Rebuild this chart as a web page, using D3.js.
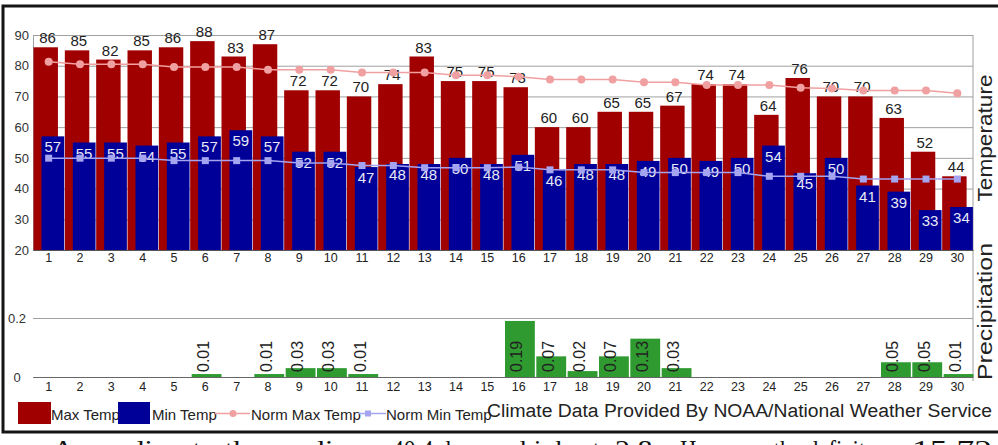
<!DOCTYPE html>
<html>
<head>
<meta charset="utf-8">
<script src="https://cdn.jsdelivr.net/npm/d3@7"></script>
<style>
  body { margin: 0; background: #fff; }
  svg { display: block; }
</style>
</head>
<body>
<svg id="chart" width="998" height="445"></svg>
<script>
// ---------- data ----------
const days = [1,2,3,4,5,6,7,8,9,10,11,12,13,14,15,16,17,18,19,20,21,22,23,24,25,26,27,28,29,30];
const maxTemp = [86,85,82,85,86,88,83,87,72,72,70,74,83,75,75,73,60,60,65,65,67,74,74,64,76,70,70,63,52,44];
const minTemp = [57,55,55,54,55,57,59,57,52,52,47,48,48,50,48,51,46,48,48,49,50,49,50,54,45,50,41,39,33,34];
const normMax = [81.3,80.5,80.5,80.5,79.6,79.6,79.6,78.7,78.7,78.7,77.8,77.8,77.8,76.9,76.9,76.4,75.5,75.5,75.5,74.6,74.6,73.7,73.7,73.7,72.8,72.6,71.9,71.9,71.9,71.0];
const normMin = [49.9,49.9,49.9,49.9,49.1,49.1,49.1,49.1,48.3,48.3,47.5,47.5,46.8,46.8,46.8,47.0,46.1,46.1,46.1,45.2,45.2,45.2,45.2,44.0,44.0,44.0,43.1,43.1,43.1,43.1];
const precip = [0,0,0,0,0,0.01,0,0.01,0.03,0.03,0.01,0,0,0,0,0.19,0.07,0.02,0.07,0.13,0.03,0,0,0,0,0,0,0.05,0.05,0.01];
const tempTicks = [20,30,40,50,60,70,80,90];
const precipTicks = [0, 0.2];
const legendLabels = ["Max Temp", "Min Temp", "Norm Max Temp", "Norm Min Temp"];
const creditText = "Climate Data Provided By NOAA/National Weather Service";
const footerParts = ["According to the readings", "40.4 degree", "highest", "2.8.", "However, the deficit", "15.72"];

// ---------- style ----------
const C = {
  max: "#a00000", min: "#000099", nmax: "#f0a0a0", nmin: "#a4a4f0",
  precip: "#2f9a2f", grid: "#a0a0a0", text: "#222", border: "#151515"
};
const FONT = "'Liberation Sans', Arial, sans-serif";

const svg = d3.select("#chart").style("font-family", FONT);

// ---------- scales ----------
const x = d3.scaleBand().domain(days).range([33, 973]).paddingInner(0).paddingOuter(0);
const bw = x.bandwidth();
const yT = d3.scaleLinear().domain([20, 90]).range([250, 35]);
const yP = d3.scaleLinear().domain([0, 0.2]).range([377, 318]);

// ---------- outer frame ----------
svg.append("path")
  .attr("d", "M998,6 L3,6 L3,432 L998,432")
  .attr("fill", "none").attr("stroke", C.border).attr("stroke-width", 3);

// ---------- temperature panel ----------
const gT = svg.append("g").attr("transform", "translate(33,0)");
const axT = d3.axisLeft(yT).tickValues(tempTicks).tickSize(-940).tickPadding(4);
gT.call(axT);
gT.select(".domain").attr("stroke", C.grid);
gT.selectAll(".tick line").attr("stroke", C.grid);
gT.selectAll(".tick text").attr("fill", "#333").style("font-size", "13px").style("font-family", FONT);

// right border line
svg.append("line").attr("x1", 973).attr("x2", 973).attr("y1", 35).attr("y2", 381)
  .attr("stroke", C.grid);

// max bars
svg.append("g").selectAll("rect").data(days).join("rect")
  .attr("x", d => x(d) + 0.5)
  .attr("width", bw * 0.78)
  .attr("y", (d, i) => yT(maxTemp[i]))
  .attr("height", (d, i) => yT(20) - yT(maxTemp[i]))
  .attr("fill", C.max);

// min bars
svg.append("g").selectAll("rect").data(days).join("rect")
  .attr("x", d => x(d) + 8.5)
  .attr("width", bw * 0.725)
  .attr("y", (d, i) => yT(minTemp[i]))
  .attr("height", (d, i) => yT(20) - yT(minTemp[i]))
  .attr("fill", C.min);

// max labels
svg.append("g").selectAll("text").data(days).join("text")
  .attr("x", d => x(d) + 14.5)
  .attr("y", (d, i) => yT(maxTemp[i]) - 4)
  .attr("text-anchor", "middle")
  .attr("fill", C.text).style("font-size", "15px")
  .text((d, i) => maxTemp[i]);

// min labels
svg.append("g").selectAll("text").data(days).join("text")
  .attr("x", d => x(d) + 19.8)
  .attr("y", (d, i) => yT(minTemp[i]) + 16)
  .attr("text-anchor", "middle")
  .attr("fill", "#e8e8f4").style("font-size", "15px")
  .text((d, i) => minTemp[i]);

// norm lines
const lineMax = d3.line().x(d => x(d) + bw / 2).y((d, i) => yT(normMax[i]));
const lineMin = d3.line().x(d => x(d) + bw / 2).y((d, i) => yT(normMin[i]));
svg.append("path").datum(days).attr("d", lineMax).attr("fill", "none")
  .attr("stroke", C.nmax).attr("stroke-width", 1.5);
svg.append("g").selectAll("circle").data(days).join("circle")
  .attr("cx", d => x(d) + bw / 2).attr("cy", (d, i) => yT(normMax[i]))
  .attr("r", 4).attr("fill", C.nmax);
svg.append("path").datum(days).attr("d", lineMin).attr("fill", "none")
  .attr("stroke", C.nmin).attr("stroke-width", 1.5);
svg.append("g").selectAll("rect").data(days).join("rect")
  .attr("x", d => x(d) + bw / 2 - 3.5).attr("y", (d, i) => yT(normMin[i]) - 3.5)
  .attr("width", 7).attr("height", 7).attr("fill", C.nmin);

// temp x axis
const gTx = svg.append("g").attr("transform", "translate(0,250)")
  .call(d3.axisBottom(x).tickSize(0).tickPadding(3));
gTx.select(".domain").attr("stroke", "#555");
gTx.selectAll(".tick text").attr("fill", C.text).style("font-size", "12.5px").style("font-family", FONT);

// ---------- precipitation panel ----------
const gP = svg.append("g").attr("transform", "translate(33,0)");
gP.call(d3.axisLeft(yP).tickValues(precipTicks).tickSize(-940).tickPadding(4)
  .tickFormat(d => d === 0 ? "0" : d3.format(".1f")(d)));
gP.select(".domain").remove();
gP.selectAll(".tick line").attr("stroke", C.grid);
gP.selectAll(".tick text").attr("fill", "#333").attr("text-anchor", "middle").attr("x", -16)
  .style("font-size", "13px").style("font-family", FONT);

svg.append("g").selectAll("rect").data(days.filter((d, i) => precip[i] > 0)).join("rect")
  .attr("x", d => x(d) + 2)
  .attr("width", bw - 1.5)
  .attr("y", d => yP(precip[days.indexOf(d)]))
  .attr("height", d => yP(0) - yP(precip[days.indexOf(d)]))
  .attr("fill", C.precip);

svg.append("g").selectAll("text").data(days.filter((d, i) => precip[i] > 0)).join("text")
  .attr("transform", d => `translate(${x(d) + bw / 2 + 3.5},372) rotate(-90)`)
  .attr("text-anchor", "start")
  .attr("fill", C.text).style("font-size", "16px")
  .text(d => precip[days.indexOf(d)].toFixed(2));

const gPx = svg.append("g").attr("transform", "translate(0,377)")
  .call(d3.axisBottom(x).tickSize(0).tickPadding(5.5));
gPx.select(".domain").attr("stroke", "#666");
gPx.selectAll(".tick text").attr("fill", C.text).style("font-size", "12.5px").style("font-family", FONT);

// ---------- panel titles ----------
svg.append("text")
  .attr("transform", "translate(992,138) rotate(-90)")
  .attr("text-anchor", "middle").attr("fill", C.text)
  .style("font-size", "20px")
  .attr("textLength", 127).attr("lengthAdjust", "spacingAndGlyphs")
  .text("Temperature");
svg.append("text")
  .attr("transform", "translate(992,311.5) rotate(-90)")
  .attr("text-anchor", "middle").attr("fill", C.text)
  .style("font-size", "20px")
  .attr("textLength", 137).attr("lengthAdjust", "spacingAndGlyphs")
  .text("Precipitation");

// ---------- legend ----------
const lg = svg.append("g");
lg.append("rect").attr("x", 18).attr("y", 402).attr("width", 33).attr("height", 22).attr("fill", C.max);
lg.append("text").attr("x", 51).attr("y", 420).attr("fill", C.text).style("font-size", "15px").text(legendLabels[0]);
lg.append("rect").attr("x", 118).attr("y", 402).attr("width", 32).attr("height", 22).attr("fill", C.min);
lg.append("text").attr("x", 152).attr("y", 420).attr("fill", C.text).style("font-size", "15px").text(legendLabels[1]);
lg.append("line").attr("x1", 215).attr("x2", 250).attr("y1", 413.5).attr("y2", 413.5).attr("stroke", C.nmax).attr("stroke-width", 1.5);
lg.append("circle").attr("cx", 233).attr("cy", 413.5).attr("r", 3.5).attr("fill", C.nmax);
lg.append("text").attr("x", 251).attr("y", 420).attr("fill", C.text).style("font-size", "15px").text(legendLabels[2]);
lg.append("line").attr("x1", 358).attr("x2", 386).attr("y1", 413.5).attr("y2", 413.5).attr("stroke", C.nmin).attr("stroke-width", 1.5);
lg.append("rect").attr("x", 365).attr("y", 410.5).attr("width", 6).attr("height", 6).attr("fill", C.nmin);
lg.append("text").attr("x", 386).attr("y", 420).attr("fill", C.text).style("font-size", "15px").text(legendLabels[3]);
lg.append("text").attr("x", 487).attr("y", 417).attr("fill", C.text)
  .style("font-size", "18px").attr("textLength", 505).attr("lengthAdjust", "spacingAndGlyphs")
  .text(creditText);

// ---------- cut-off page text below the frame ----------
const footX = [52, 392, 520, 615, 680, 912];
const footW = [325, 110, 80, 45, 185, 80];
footerParts.forEach((t, i) => {
  svg.append("text").attr("x", footX[i]).attr("y", 458).attr("fill", "#111")
    .style("font-family", "'Liberation Serif', 'DejaVu Serif', serif").style("font-size", "26px")
    .attr("textLength", footW[i]).attr("lengthAdjust", "spacingAndGlyphs")
    .text(t);
});
</script>
</body>
</html>
